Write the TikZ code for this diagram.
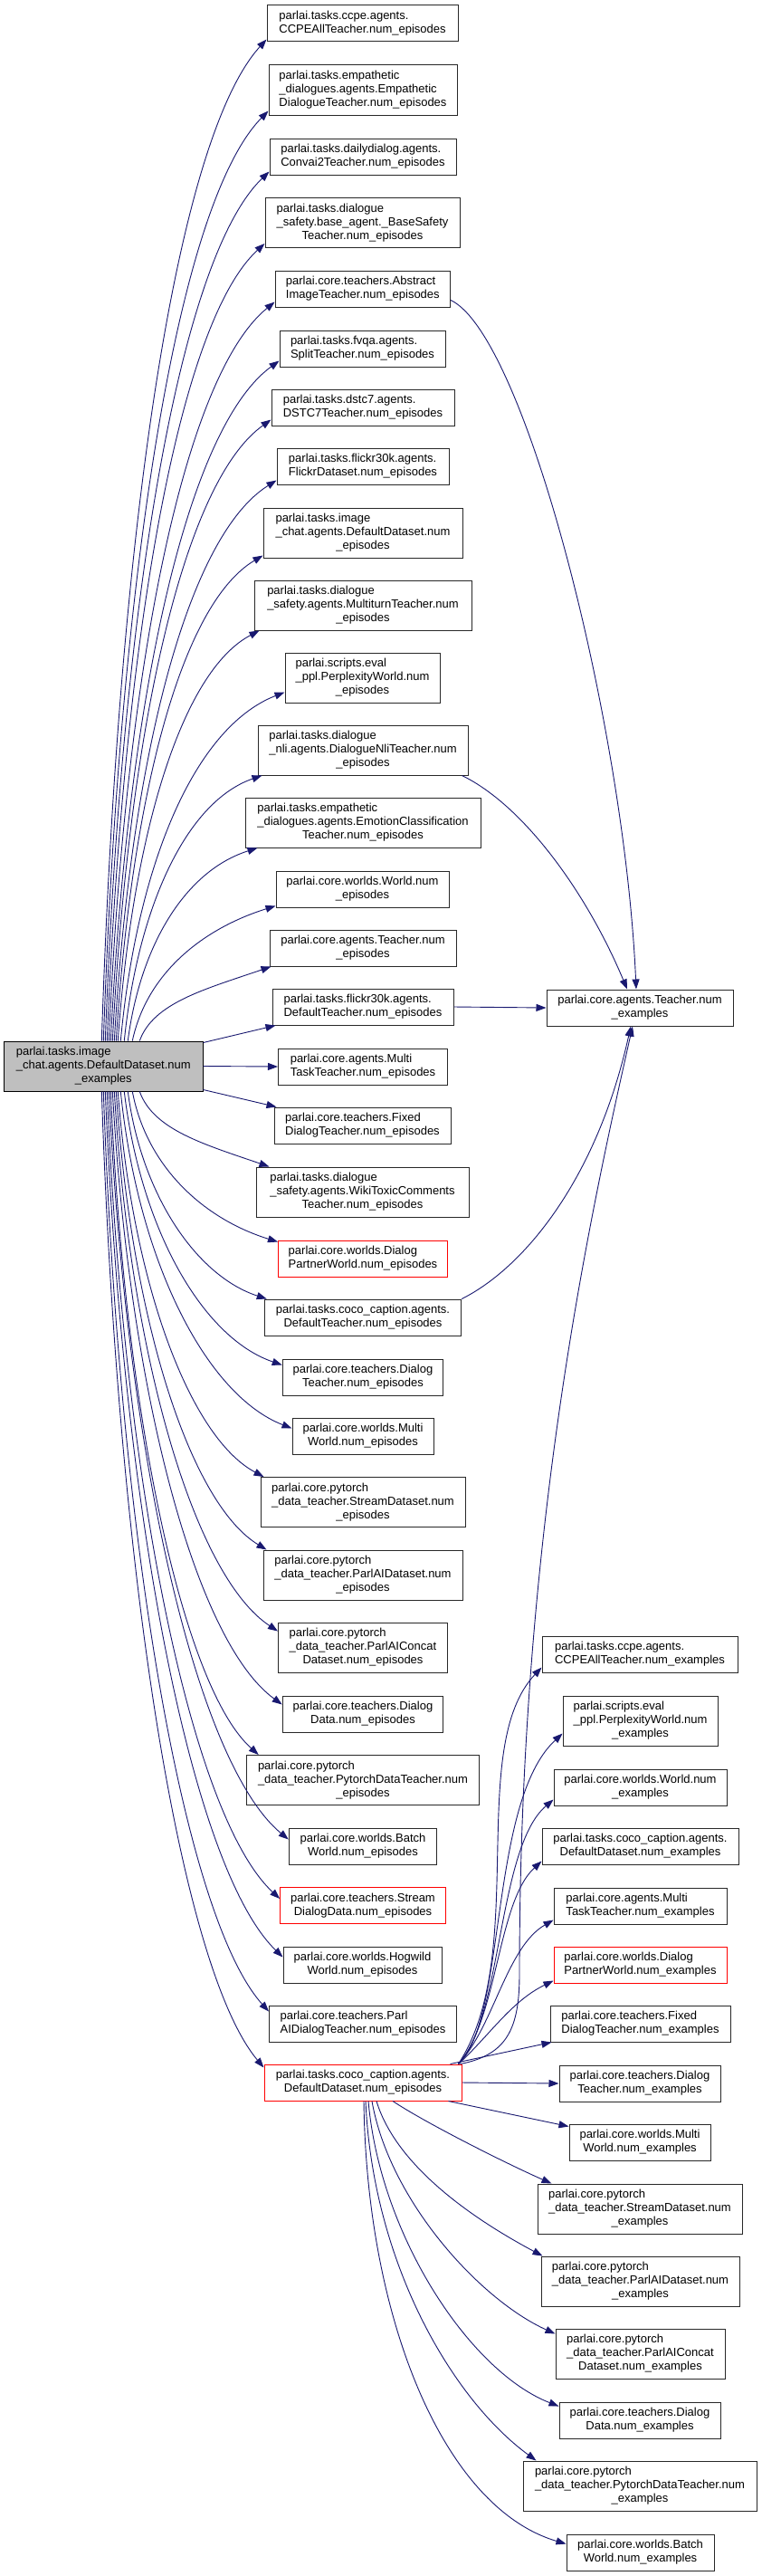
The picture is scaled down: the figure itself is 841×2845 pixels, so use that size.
\documentclass[tikz,border=0pt]{standalone}
\usepackage{fontspec}
\setmainfont{Liberation Sans}
\usetikzlibrary{arrows.meta}
\newcommand{\fnlabel}[2]{\begin{tabular}{@{}l@{}}#1\\\multicolumn{1}{@{}c@{}}{#2}\end{tabular}}

\begin{document}
\begin{tikzpicture}[x=1pt, y=1pt]
	% Define colors
	\definecolor{callblue}{RGB}{25, 25, 112}
	\definecolor{main_bg}{RGB}{191, 191, 191}
	\definecolor{box_line}{RGB}{40, 40, 40}
	\definecolor{cut_red}{RGB}{255, 0, 0}

	% Styles
	\tikzstyle{fn_box} = [draw=box_line, fill=white, line width=1pt, inner sep=0pt, font=\fontsize{13}{15}\selectfont]
	\tikzstyle{fn_two} = [fn_box, minimum height=40pt]
	\tikzstyle{fn_three} = [fn_box, minimum height=55pt]
	\tikzstyle{fn_cut} = [draw=cut_red]
	\tikzstyle{call_edge} = [draw=callblue, line width=0.9pt, -{Triangle[length=11pt, width=8pt]}]

	\path[use as bounding box, fill=white] (0,0) rectangle (841,-2845);

	% Function whose calls are shown
	\node[fn_three, fill=main_bg, draw=black, minimum width=219.5pt] (imgChatEx) at (114.3,-1177.5) {\fnlabel{parlai.tasks.image\\\_chat.agents.DefaultDataset.num}{\_examples}};

	% num_episodes column
	\node[fn_two, minimum width=211pt] (ccpeEp) at (400.5,-26) {\fnlabel{parlai.tasks.ccpe.agents.}{CCPEAllTeacher.num\_episodes}};
	\node[fn_three, minimum width=208pt] (empDlgEp) at (401,-99.5) {\fnlabel{parlai.tasks.empathetic\\\_dialogues.agents.Empathetic}{DialogueTeacher.num\_episodes}};
	\node[fn_two, minimum width=206pt] (dailyEp) at (401,-173) {\fnlabel{parlai.tasks.dailydialog.agents.}{Convai2Teacher.num\_episodes}};
	\node[fn_three, minimum width=215pt] (baseSafetyEp) at (400.5,-246) {\fnlabel{parlai.tasks.dialogue\\\_safety.base\_agent.\_BaseSafety}{Teacher.num\_episodes}};
	\node[fn_two, minimum width=193.5pt] (absImgEp) at (400.8,-319) {\fnlabel{parlai.core.teachers.Abstract}{ImageTeacher.num\_episodes}};
	\node[fn_two, minimum width=183pt] (fvqaEp) at (400.5,-385) {\fnlabel{parlai.tasks.fvqa.agents.}{SplitTeacher.num\_episodes}};
	\node[fn_two, minimum width=202pt] (dstcEp) at (401,-450) {\fnlabel{parlai.tasks.dstc7.agents.}{DSTC7Teacher.num\_episodes}};
	\node[fn_two, minimum width=190pt] (flickrDsEp) at (401,-515) {\fnlabel{parlai.tasks.flickr30k.agents.}{FlickrDataset.num\_episodes}};
	\node[fn_three, minimum width=220pt] (imgChatEp) at (401,-588.5) {\fnlabel{parlai.tasks.image\\\_chat.agents.DefaultDataset.num}{\_episodes}};
	\node[fn_three, minimum width=240pt] (multiturnEp) at (401,-668.5) {\fnlabel{parlai.tasks.dialogue\\\_safety.agents.MultiturnTeacher.num}{\_episodes}};
	\node[fn_three, minimum width=171pt] (pplEp) at (400.5,-748.5) {\fnlabel{parlai.scripts.eval\\\_ppl.PerplexityWorld.num}{\_episodes}};
	\node[fn_three, minimum width=232pt] (nliEp) at (401,-828.5) {\fnlabel{parlai.tasks.dialogue\\\_nli.agents.DialogueNliTeacher.num}{\_episodes}};
	\node[fn_three, minimum width=260pt] (emotionEp) at (401,-908.5) {\fnlabel{parlai.tasks.empathetic\\\_dialogues.agents.EmotionClassification}{Teacher.num\_episodes}};
	\node[fn_two, minimum width=191pt] (worldEp) at (400.5,-982) {\fnlabel{parlai.core.worlds.World.num}{\_episodes}};
	\node[fn_two, minimum width=206pt] (teacherEp) at (401,-1047) {\fnlabel{parlai.core.agents.Teacher.num}{\_episodes}};
	\node[fn_two, minimum width=200pt] (flickrTchEp) at (401,-1112) {\fnlabel{parlai.tasks.flickr30k.agents.}{DefaultTeacher.num\_episodes}};
	\node[fn_two, minimum width=187pt] (multiTaskEp) at (401,-1178) {\fnlabel{parlai.core.agents.Multi}{TaskTeacher.num\_episodes}};
	\node[fn_two, minimum width=195pt] (fixedEp) at (400.5,-1243) {\fnlabel{parlai.core.teachers.Fixed}{DialogTeacher.num\_episodes}};
	\node[fn_three, minimum width=235pt] (wikiToxEp) at (400.5,-1316.5) {\fnlabel{parlai.tasks.dialogue\\\_safety.agents.WikiToxicComments}{Teacher.num\_episodes}};
	\node[fn_two, fn_cut, minimum width=187pt] (partnerEp) at (401,-1390) {\fnlabel{parlai.core.worlds.Dialog}{PartnerWorld.num\_episodes}};
	\node[fn_two, minimum width=217.5pt] (cocoTchEp) at (401,-1455) {\fnlabel{parlai.tasks.coco\_caption.agents.}{DefaultTeacher.num\_episodes}};
	\node[fn_two, minimum width=177.5pt] (dlgTchEp) at (401,-1521) {\fnlabel{parlai.core.teachers.Dialog}{Teacher.num\_episodes}};
	\node[fn_two, minimum width=156pt] (multiWorldEp) at (401,-1586) {\fnlabel{parlai.core.worlds.Multi}{World.num\_episodes}};
	\node[fn_three, minimum width=226pt] (streamDsEp) at (401,-1659) {\fnlabel{parlai.core.pytorch\\\_data\_teacher.StreamDataset.num}{\_episodes}};
	\node[fn_three, minimum width=220pt] (parlaiDsEp) at (401,-1739.5) {\fnlabel{parlai.core.pytorch\\\_data\_teacher.ParlAIDataset.num}{\_episodes}};
	\node[fn_three, minimum width=187pt] (concatEp) at (401,-1819.5) {\fnlabel{parlai.core.pytorch\\\_data\_teacher.ParlAIConcat}{Dataset.num\_episodes}};
	\node[fn_two, minimum width=177.5pt] (dlgDataEp) at (401,-1893) {\fnlabel{parlai.core.teachers.Dialog}{Data.num\_episodes}};
	\node[fn_three, minimum width=257.5pt] (pytorchEp) at (401,-1966) {\fnlabel{parlai.core.pytorch\\\_data\_teacher.PytorchDataTeacher.num}{\_episodes}};
	\node[fn_two, minimum width=163.5pt] (batchEp) at (401,-2039) {\fnlabel{parlai.core.worlds.Batch}{World.num\_episodes}};
	\node[fn_two, fn_cut, minimum width=182.5pt] (streamDlgEp) at (401,-2104.5) {\fnlabel{parlai.core.teachers.Stream}{DialogData.num\_episodes}};
	\node[fn_two, minimum width=175pt] (hogwildEp) at (400.5,-2170) {\fnlabel{parlai.core.worlds.Hogwild}{World.num\_episodes}};
	\node[fn_two, minimum width=207pt] (parlaiDlgEp) at (401,-2235) {\fnlabel{parlai.core.teachers.Parl}{AIDialogTeacher.num\_episodes}};
	\node[fn_two, fn_cut, minimum width=218pt] (cocoDsEp) at (401,-2300) {\fnlabel{parlai.tasks.coco\_caption.agents.}{DefaultDataset.num\_episodes}};

	% num_examples column
	\node[fn_two, minimum width=206pt] (teacherEx) at (707,-1113) {\fnlabel{parlai.core.agents.Teacher.num}{\_examples}};
	\node[fn_two, minimum width=216pt] (ccpeEx) at (707,-1827) {\fnlabel{parlai.tasks.ccpe.agents.}{CCPEAllTeacher.num\_examples}};
	\node[fn_three, minimum width=171pt] (pplEx) at (707.5,-1900.5) {\fnlabel{parlai.scripts.eval\\\_ppl.PerplexityWorld.num}{\_examples}};
	\node[fn_two, minimum width=191pt] (worldEx) at (707.5,-1974) {\fnlabel{parlai.core.worlds.World.num}{\_examples}};
	\node[fn_two, minimum width=217pt] (cocoDsEx) at (707.5,-2039) {\fnlabel{parlai.tasks.coco\_caption.agents.}{DefaultDataset.num\_examples}};
	\node[fn_two, minimum width=191pt] (multiTaskEx) at (707.5,-2105) {\fnlabel{parlai.core.agents.Multi}{TaskTeacher.num\_examples}};
	\node[fn_two, fn_cut, minimum width=191pt] (partnerEx) at (707.5,-2170) {\fnlabel{parlai.core.worlds.Dialog}{PartnerWorld.num\_examples}};
	\node[fn_two, minimum width=199pt] (fixedEx) at (707.5,-2235) {\fnlabel{parlai.core.teachers.Fixed}{DialogTeacher.num\_examples}};
	\node[fn_two, minimum width=178pt] (dlgTchEx) at (707,-2301) {\fnlabel{parlai.core.teachers.Dialog}{Teacher.num\_examples}};
	\node[fn_two, minimum width=156pt] (multiWorldEx) at (707,-2366) {\fnlabel{parlai.core.worlds.Multi}{World.num\_examples}};
	\node[fn_three, minimum width=226pt] (streamDsEx) at (707,-2439.5) {\fnlabel{parlai.core.pytorch\\\_data\_teacher.StreamDataset.num}{\_examples}};
	\node[fn_three, minimum width=219pt] (parlaiDsEx) at (707.5,-2519.5) {\fnlabel{parlai.core.pytorch\\\_data\_teacher.ParlAIDataset.num}{\_examples}};
	\node[fn_three, minimum width=187pt] (concatEx) at (707.5,-2599.5) {\fnlabel{parlai.core.pytorch\\\_data\_teacher.ParlAIConcat}{Dataset.num\_examples}};
	\node[fn_two, minimum width=178pt] (dlgDataEx) at (707,-2673) {\fnlabel{parlai.core.teachers.Dialog}{Data.num\_examples}};
	\node[fn_three, minimum width=258pt] (pytorchEx) at (707,-2745.5) {\fnlabel{parlai.core.pytorch\\\_data\_teacher.PytorchDataTeacher.num}{\_examples}};
	\node[fn_two, minimum width=163pt] (batchEx) at (707.5,-2819) {\fnlabel{parlai.core.worlds.Batch}{World.num\_examples}};

	% Calls upwards from the main function
	\draw[call_edge] ([xshift=-2pt]imgChatEx.north) .. controls +(18,554) and +(-101,-111) .. ([yshift=3pt]ccpeEp.south west);
	\draw[call_edge] ([xshift=0pt]imgChatEx.north) .. controls +(18,514) and +(-101,-103) .. ([yshift=5pt]empDlgEp.south west);
	\draw[call_edge] ([xshift=2pt]imgChatEx.north) .. controls +(18,480) and +(-100,-96) .. ([yshift=4pt]dailyEp.south west);
	\draw[call_edge] ([xshift=4pt]imgChatEx.north) .. controls +(18,441) and +(-96,-88) .. ([yshift=5pt]baseSafetyEp.south west);
	\draw[call_edge] ([xshift=6pt]imgChatEx.north) .. controls +(18,408) and +(-101,-82) .. ([yshift=6pt]absImgEp.south west);
	\draw[call_edge] ([xshift=8pt]imgChatEx.north) .. controls +(19,376) and +(-103,-75) .. ([yshift=7pt]fvqaEp.south west);
	\draw[call_edge] ([xshift=10pt]imgChatEx.north) .. controls +(18,344) and +(-97,-69) .. ([yshift=7pt]dstcEp.south west);
	\draw[call_edge] ([xshift=12pt]imgChatEx.north) .. controls +(18,310) and +(-99,-62) .. ([yshift=5pt]flickrDsEp.south west);
	\draw[call_edge] ([xshift=14pt]imgChatEx.north) .. controls +(17,268) and +(-91,-54) .. ([yshift=3pt]imgChatEp.south west);
	\draw[call_edge] ([xshift=16pt]imgChatEx.north) .. controls +(16,227) and +(-86,-45) .. ([xshift=6pt]multiturnEp.south west);
	\draw[call_edge] ([xshift=19pt]imgChatEx.north) .. controls +(18,194) and +(-100,-39) .. ([yshift=12pt]pplEp.south west);
	\draw[call_edge] ([xshift=23pt]imgChatEx.north) .. controls +(15,147) and +(-84,-29) .. ([xshift=5pt]nliEp.south west);
	\draw[call_edge] ([xshift=27pt]imgChatEx.north) .. controls +(14,107) and +(-79,-25) .. ([xshift=14pt]emotionEp.south west);
	\draw[call_edge] ([xshift=32pt]imgChatEx.north) .. controls +(16,75) and +(-80,-25) .. ([yshift=2pt]worldEp.south west);
	\draw[call_edge] ([xshift=40pt]imgChatEx.north) .. controls +(15,42) and +(-73,-25) .. ([xshift=2pt]teacherEp.south west);
	\draw[call_edge] ([yshift=-2pt]imgChatEx.north east) -- ([xshift=4pt]flickrTchEp.south west);
	\draw[call_edge] (imgChatEx.east) -- (multiTaskEp.west);
	\draw[call_edge] ([yshift=2pt]imgChatEx.south east) -- ([xshift=3pt]fixedEp.north west);

	% Calls downwards from the main function
	\draw[call_edge] ([xshift=40pt]imgChatEx.south) .. controls +(15,-42) and +(-73,25) .. ([xshift=15pt]wikiToxEp.north west);
	\draw[call_edge] ([xshift=32pt]imgChatEx.south) .. controls +(16,-84) and +(-81,25) .. ([yshift=-2pt]partnerEp.north west);
	\draw[call_edge] ([xshift=27pt]imgChatEx.south) .. controls +(15,-115) and +(-77,25) .. ([xshift=3pt]cocoTchEp.north west);
	\draw[call_edge] ([xshift=23pt]imgChatEx.south) .. controls +(18,-152) and +(-88,30) .. ([yshift=-7pt]dlgTchEp.north west);
	\draw[call_edge] ([xshift=19pt]imgChatEx.south) .. controls +(19,-187) and +(-95,37) .. ([yshift=-12pt]multiWorldEp.north west);
	\draw[call_edge] ([xshift=16pt]imgChatEx.south) .. controls +(16,-214) and +(-81,43) .. ([xshift=4pt]streamDsEp.north west);
	\draw[call_edge] ([xshift=14pt]imgChatEx.south) .. controls +(17,-254) and +(-84,51) .. ([xshift=4pt]parlaiDsEp.north west);
	\draw[call_edge] ([xshift=12pt]imgChatEx.south) .. controls +(18,-299) and +(-91,60) .. ([yshift=-10pt]concatEp.north west);
	\draw[call_edge] ([xshift=10pt]imgChatEx.south) .. controls +(19,-339) and +(-94,68) .. ([yshift=-10pt]dlgDataEp.north west);
	\draw[call_edge] ([xshift=8pt]imgChatEx.south) .. controls +(16,-367) and +(-82,73) .. ([xshift=14pt]pytorchEp.north west);
	\draw[call_edge] ([xshift=6pt]imgChatEx.south) .. controls +(20,-414) and +(-100,83) .. ([yshift=-13pt]batchEp.north west);
	\draw[call_edge] ([xshift=4pt]imgChatEx.south) .. controls +(19,-446) and +(-96,89) .. ([yshift=-13pt]streamDlgEp.north west);
	\draw[call_edge] ([xshift=2pt]imgChatEx.south) .. controls +(20,-479) and +(-99,96) .. ([yshift=-12pt]hogwildEp.north west);
	\draw[call_edge] ([xshift=0pt]imgChatEx.south) .. controls +(18,-509) and +(-92,102) .. ([yshift=-7pt]parlaiDlgEp.north west);
	\draw[call_edge] ([xshift=-2pt]imgChatEx.south) .. controls +(18,-540) and +(-91,108) .. ([yshift=-4pt]cocoDsEp.north west);

	% Calls into Teacher.num_examples
	\draw[call_edge] ([yshift=8pt]absImgEp.south east) .. controls +(82,-39) and +(-13,293) .. ([xshift=-4pt]teacherEx.north);
	\draw[call_edge] ([xshift=-7pt]nliEp.south east) .. controls +(70,-34) and +(-43,103) .. ([xshift=-14pt]teacherEx.north);
	\draw[call_edge] (flickrTchEp.east) -- (teacherEx.west);
	\draw[call_edge] (cocoTchEp.north east) .. controls +(70,35) and +(-37,-167) .. ([xshift=-10pt]teacherEx.south);
	\coordinate (cocoBend) at (574,-2180);
	\draw[call_edge] ([xshift=-2pt]cocoDsEp.north east) .. controls +(52,10) and +(0,-60) .. (cocoBend) .. controls +(0,480) and +(-49,-217) .. ([xshift=-8pt]teacherEx.south);

	% Calls from coco_caption DefaultDataset.num_episodes
	\draw[call_edge] ([xshift=-4pt]cocoDsEp.north east) .. controls +(79,121) and +(-84,-89) .. ([yshift=6pt]ccpeEx.south west);
	\draw[call_edge] ([xshift=-4pt]cocoDsEp.north east) .. controls +(54,51) and +(-82,-76) .. ([yshift=14pt]pplEx.south west);
	\draw[call_edge] ([xshift=-4pt]cocoDsEp.north east) .. controls +(49,51) and +(-62,-53) .. ([yshift=7pt]worldEx.south west);
	\draw[call_edge] ([xshift=-4pt]cocoDsEp.north east) .. controls +(44,51) and +(-49,-45) .. ([yshift=4pt]cocoDsEx.south west);
	\draw[call_edge] ([xshift=-4pt]cocoDsEp.north east) .. controls +(39,41) and +(-52,-30) .. ([yshift=5pt]multiTaskEx.south west);
	\draw[call_edge] ([xshift=-4pt]cocoDsEp.north east) .. controls +(34,31) and +(-47,-23) .. ([yshift=3pt]partnerEx.south west);
	\draw[call_edge] ([xshift=-13pt]cocoDsEp.north east) -- ([xshift=2pt]fixedEx.south west);
	\draw[call_edge] (cocoDsEp.east) -- (dlgTchEx.west);
	\draw[call_edge] ([xshift=-15pt]cocoDsEp.south east) -- ([yshift=-3pt]multiWorldEx.north west);
	\draw[call_edge] ([xshift=33pt]cocoDsEp.south) .. controls +(36,-24) and +(-50,22) .. ([xshift=16pt]streamDsEx.north west);
	\draw[call_edge] ([xshift=15pt]cocoDsEp.south) .. controls +(24,-79) and +(-60,32) .. ([xshift=2pt]parlaiDsEx.north west);
	\draw[call_edge] ([xshift=10pt]cocoDsEp.south) .. controls +(19,-109) and +(-84,38) .. ([yshift=-6pt]concatEx.north west);
	\draw[call_edge] ([xshift=6pt]cocoDsEp.south) .. controls +(13,-149) and +(-98,38) .. ([yshift=-5pt]dlgDataEx.north west);
	\draw[call_edge] ([xshift=3pt]cocoDsEp.south) .. controls +(8,-179) and +(-93,68) .. ([xshift=15pt]pytorchEx.north west);
	\draw[call_edge] ([xshift=1pt]cocoDsEp.south) .. controls +(3,-239) and +(-136,40) .. ([yshift=-11pt]batchEx.north west);

\end{tikzpicture}
\end{document}
